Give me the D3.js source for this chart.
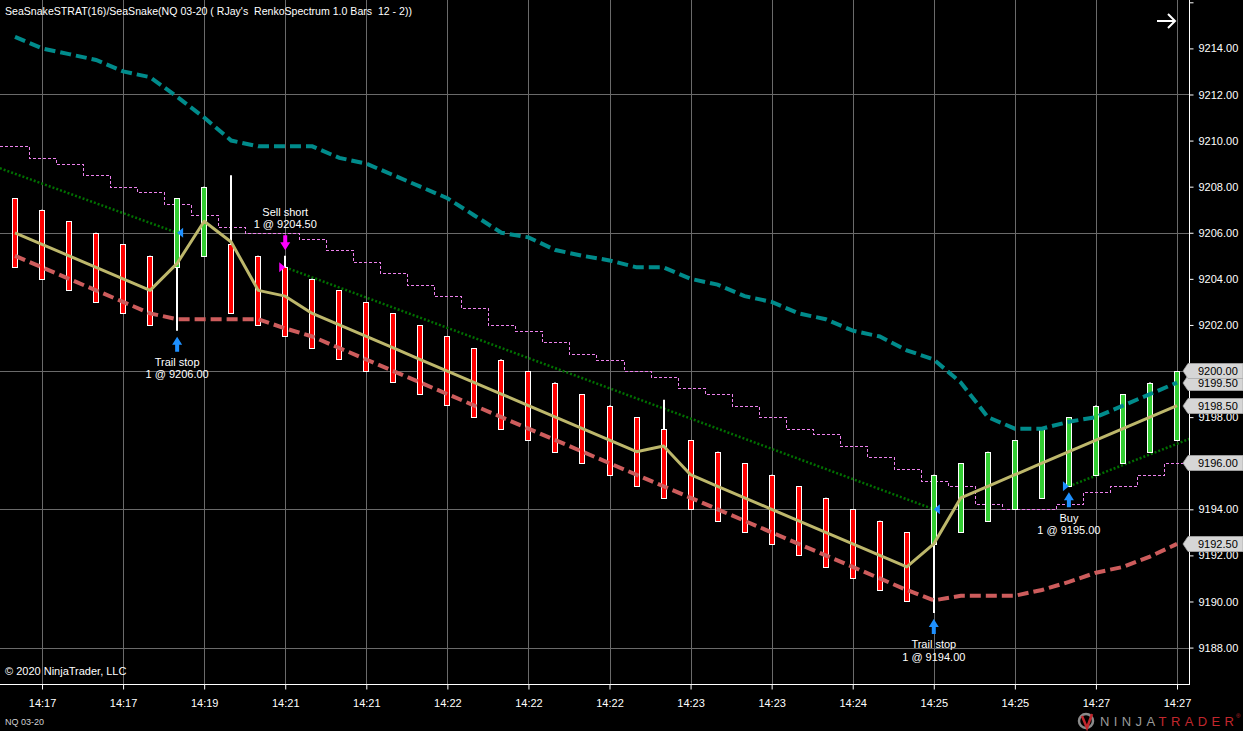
<!DOCTYPE html>
<html>
<head>
<meta charset="utf-8">
<script src="https://cdn.jsdelivr.net/npm/d3@7"></script>
<style>
    html, body { margin: 0; background: #000; overflow: hidden; }
    svg { display: block; }
    text { font-family: "Liberation Sans", Arial, sans-serif; }
</style>
</head>
<body>
<svg id="chart" width="1243" height="731"></svg>
<script>
const timeLabels = ['14:17', '14:17', '14:19', '14:21', '14:21', '14:22', '14:22', '14:22',
    '14:23', '14:23', '14:24', '14:25', '14:25', '14:27', '14:27']
const tickBars = d3.range(1, 44, 3)

const opens = [9207.5, 9207, 9206.5, 9206, 9205.5, 9205, 9204.5, 9205, 9205.5, 9205,
    9204.5, 9204, 9203.5, 9203, 9202.5, 9202, 9201.5, 9201, 9200.5, 9200,
    9199.5, 9199, 9198.5, 9198, 9197.5, 9197, 9196.5, 9196, 9195.5, 9195,
    9194.5, 9194, 9193.5, 9193, 9192.5, 9193, 9193.5, 9194, 9194.5, 9195,
    9195.5, 9196, 9196.5, 9197]
const closes = [9204.5, 9204, 9203.5, 9203, 9202.5, 9202, 9207.5, 9208, 9202.5, 9202,
    9201.5, 9201, 9200.5, 9200, 9199.5, 9199, 9198.5, 9198, 9197.5, 9197,
    9196.5, 9196, 9195.5, 9195, 9194.5, 9194, 9193.5, 9193, 9192.5, 9192,
    9191.5, 9191, 9190.5, 9190, 9195.5, 9196, 9196.5, 9197, 9197.5, 9198,
    9198.5, 9199, 9199.5, 9200]
const highs = [9207.5, 9207, 9206.5, 9206, 9205.5, 9205, 9207.5, 9208, 9208.5, 9205,
    9205, 9204, 9203.5, 9203, 9202.5, 9202, 9201.5, 9201, 9200.5, 9200,
    9199.5, 9199, 9198.5, 9198, 9198.75, 9197, 9196.5, 9196, 9195.5, 9195,
    9194.5, 9194, 9193.5, 9193, 9195.5, 9196, 9196.5, 9197, 9197.5, 9198,
    9198.5, 9199, 9199.5, 9200]
const lows = [9204.5, 9204, 9203.5, 9203, 9202.5, 9202, 9201.75, 9205, 9202.5, 9202,
    9201.5, 9201, 9200.5, 9200, 9199.5, 9199, 9198.5, 9198, 9197.5, 9197,
    9196.5, 9196, 9195.5, 9195, 9194.5, 9194, 9193.5, 9193, 9192.5, 9192,
    9191.5, 9191, 9190.5, 9190, 9189.5, 9193, 9193.5, 9194, 9194.5, 9195,
    9195.5, 9196, 9196.5, 9197]

// SeaSnake channel
const upperBand = [9214.5, 9214, 9213.75, 9213.5, 9213, 9212.75, 9211.9, 9211, 9210, 9209.75,
    9209.75, 9209.75, 9209.25, 9209, 9208.5, 9208, 9207.5, 9206.75, 9206, 9205.8,
    9205.25, 9205, 9204.8, 9204.5, 9204.5, 9204, 9203.75, 9203.25, 9203, 9202.5,
    9202.25, 9201.75, 9201.5, 9200.9, 9200.5, 9199.5, 9198, 9197.5, 9197.5, 9197.8,
    9198, 9198.5, 9199, 9199.5]
const midLine = [9206, 9205.5, 9205, 9204.5, 9204, 9203.5, 9204.67, 9206.5, 9205.6, 9203.5,
    9203.25, 9202.5, 9202, 9201.5, 9201, 9200.5, 9200, 9199.5, 9199, 9198.5,
    9198, 9197.5, 9197, 9196.5, 9196.75, 9195.5, 9195, 9194.5, 9194, 9193.5,
    9193, 9192.5, 9192, 9191.5, 9192.5, 9194.5, 9195, 9195.5, 9196, 9196.5,
    9197, 9197.5, 9198, 9198.5]
const lowerBand = [9205, 9204.5, 9204, 9203.5, 9203, 9202.5, 9202.25, 9202.25, 9202.25, 9202.25,
    9201.85, 9201.5, 9201, 9200.5, 9200, 9199.5, 9199, 9198.5, 9198, 9197.5,
    9197, 9196.5, 9196, 9195.5, 9195, 9194.5, 9194, 9193.5, 9193, 9192.5,
    9192, 9191.5, 9191, 9190.5, 9190.05, 9190.25, 9190.25, 9190.25, 9190.5, 9190.85,
    9191.25, 9191.5, 9191.95, 9192.5]
const stopSteps = [9209.75, 9209.25, 9209, 9208.5, 9208, 9207.75, 9207.25, 9206.75, 9206.25, 9206,
    9206, 9205.75, 9205.25, 9204.75, 9204.25, 9203.75, 9203.25, 9202.75, 9202, 9201.75,
    9201.25, 9200.75, 9200.5, 9200, 9199.75, 9199.25, 9199, 9198.5, 9198, 9197.5,
    9197.25, 9196.75, 9196.25, 9195.75, 9195.25, 9195, 9194.25, 9194, 9194, 9194.25,
    9194.75, 9195, 9195.5, 9196]

// [bar, price] pairs of the strategy trend stop
const trendLines = [
    [[-0.56, 9208.8], [6, 9206]],
    [[10, 9204.5], [34, 9194]],
    [[39, 9195], [43.45, 9197.05]]
]

const trades = [
    {bar: 6, price: 9206, side: 'buy', entry: false, name: 'Trail stop'},
    {bar: 10, price: 9204.5, side: 'sell', entry: true, name: 'Sell short'},
    {bar: 34, price: 9194, side: 'buy', entry: false, name: 'Trail stop'},
    {bar: 39, price: 9195, side: 'buy', entry: true, name: 'Buy'}
]

const plotW = 1189, plotH = 684
const svg = d3.select('#chart')

const x = d3.scaleLinear().domain([0, 43]).range([15, 1177])
const y = d3.scaleLinear().domain([9186.42, 9216.1]).range([plotH, 0])
const fmt = d3.format('.2f')
const px = v => Math.round(v) + 0.5

svg.append('rect').attr('width', 1243).attr('height', 731).attr('fill', '#000')

svg.append('defs').append('clipPath').attr('id', 'plot-clip')
    .append('rect').attr('width', plotW).attr('height', plotH)

// grid
const grid = svg.append('g').attr('stroke', '#6a6a6a').attr('stroke-width', 1)
grid.selectAll('.vgrid').data(tickBars).join('line')
    .attr('x1', d => px(x(d))).attr('x2', d => px(x(d)))
    .attr('y1', 0).attr('y2', plotH)
grid.selectAll('.hgrid').data([9188, 9194, 9200, 9206, 9212]).join('line')
    .attr('x1', 0).attr('x2', plotW)
    .attr('y1', d => px(y(d))).attr('y2', d => px(y(d)))

const plot = svg.append('g').attr('clip-path', 'url(#plot-clip)')
const seriesLine = d3.line().x((d, i) => x(i)).y(d => y(d))

// trailing stop steps
const stepPts = [[-0.6, stopSteps[0]]].concat(stopSteps.map((v, i) => [i, v]), [[43.6, stopSteps[43]]])
plot.append('path')
    .datum(stepPts)
    .attr('d', d3.line().x(d => px(x(d[0]))).y(d => px(y(d[1]))).curve(d3.curveStep))
    .attr('fill', 'none').attr('stroke', '#ee82ee').attr('stroke-width', 1)
    .attr('stroke-dasharray', '3,2').attr('shape-rendering', 'crispEdges')

// trend stop dotted segments
plot.selectAll('.trend').data(trendLines).join('path')
    .attr('d', d3.line().x(d => x(d[0])).y(d => y(d[1])))
    .attr('fill', 'none').attr('stroke', '#007000').attr('stroke-width', 2.5)
    .attr('stroke-dasharray', '2,2')

// renko bars
const bars = plot.append('g')
bars.selectAll('.wick').data(highs).join('line')
    .attr('x1', (d, i) => Math.round(x(i))).attr('x2', (d, i) => Math.round(x(i)))
    .attr('y1', d => y(d)).attr('y2', (d, i) => y(lows[i]))
    .attr('stroke', '#fff').attr('stroke-width', 2)
bars.selectAll('.body').data(opens).join('rect')
    .attr('x', (d, i) => Math.round(x(i)) - 2.5)
    .attr('width', 5)
    .attr('y', (d, i) => Math.round(y(Math.max(d, closes[i]))) + 0.5)
    .attr('height', (d, i) => Math.round(Math.abs(y(d) - y(closes[i]))))
    .attr('fill', (d, i) => closes[i] > d ? '#32cd32' : '#ff0000')
    .attr('stroke', '#fff').attr('stroke-width', 1)

// channel lines
plot.append('path').datum(upperBand).attr('d', seriesLine)
    .attr('fill', 'none').attr('stroke', '#008b8b').attr('stroke-width', 4)
    .attr('stroke-dasharray', '11,5')
plot.append('path').datum(lowerBand).attr('d', seriesLine)
    .attr('fill', 'none').attr('stroke', '#cd5c5c').attr('stroke-width', 4)
    .attr('stroke-dasharray', '11,5')
plot.append('path').datum(midLine).attr('d', seriesLine)
    .attr('fill', 'none').attr('stroke', '#bdb76b').attr('stroke-width', 3)
    .attr('stroke-linejoin', 'round')

// executions
const tradeColor = d => d.side === 'buy' ? '#1e90ff' : '#ff00ff'
const marks = plot.selectAll('.trade').data(trades).join('g')
marks.append('path')
    .attr('d', d => {
        const cx = x(d.bar), cy = y(d.price), s = d.entry ? -6 : 6
        return `M${cx},${cy}L${cx + s},${cy - 5}L${cx + s},${cy + 5}Z`
    })
    .attr('fill', tradeColor)
marks.append('path')
    .attr('d', d => {
        const cx = x(d.bar)
        if (d.side === 'buy') {
            const t = y(lows[d.bar]) + 6
            return `M${cx},${t}L${cx + 5},${t + 8}L${cx + 2},${t + 8}L${cx + 2},${t + 15}` +
                `L${cx - 2},${t + 15}L${cx - 2},${t + 8}L${cx - 5},${t + 8}Z`
        }
        const b = y(highs[d.bar]) - 5.5
        return `M${cx},${b}L${cx + 5},${b - 8}L${cx + 2},${b - 8}L${cx + 2},${b - 15}` +
            `L${cx - 2},${b - 15}L${cx - 2},${b - 8}L${cx - 5},${b - 8}Z`
    })
    .attr('fill', tradeColor)
marks.each(function (d) {
    const g = d3.select(this)
    const cx = x(d.bar)
    const base = d.side === 'buy' ? y(lows[d.bar]) + 31.5 : y(highs[d.bar]) - 43.5
    const lines = [d.name, `1 @ ${fmt(d.price)}`]
    lines.forEach((t, k) => {
        g.append('text')
            .attr('x', cx).attr('y', base + k * 12.3)
            .attr('dy', '0.35em')
            .attr('text-anchor', 'middle')
            .attr('fill', '#fff').attr('font-size', 11)
            .text(t)
    })
})

// axes
svg.append('line').attr('x1', plotW + 0.5).attr('x2', plotW + 0.5).attr('y1', 0).attr('y2', plotH + 1)
    .attr('stroke', '#fff')
svg.append('line').attr('x1', 0).attr('x2', plotW + 1).attr('y1', plotH + 0.5).attr('y2', plotH + 0.5)
    .attr('stroke', '#fff')

const yAxis = svg.append('g')
    .attr('transform', `translate(${plotW + 0.5},0)`)
    .call(d3.axisRight(y).tickValues(d3.range(9188, 9217, 2)).tickSize(4).tickPadding(5)
        .tickFormat(d => d > 9215 ? '' : fmt(d)))
yAxis.select('.domain').remove()
yAxis.selectAll('line').attr('stroke', '#fff')
yAxis.selectAll('text').attr('fill', '#fff').attr('font-size', 11)
    .attr('font-family', '"Liberation Sans", Arial, sans-serif')

const xAxis = svg.append('g')
    .attr('transform', `translate(0,${plotH + 0.5})`)
    .call(d3.axisBottom(x).tickValues(tickBars).tickSize(5).tickPadding(10)
        .tickFormat((d, i) => timeLabels[i]))
xAxis.select('.domain').remove()
xAxis.selectAll('line').attr('stroke', '#fff')
xAxis.selectAll('text').attr('fill', '#fff').attr('font-size', 11)
    .attr('font-family', '"Liberation Sans", Arial, sans-serif')

// last value tags on the price axis
const tagValues = [lowerBand[43], stopSteps[43], midLine[43], upperBand[43], closes[43]]
const tags = svg.selectAll('.tag').data(tagValues).join('g')
tags.append('path')
    .attr('d', d => {
        const c = Math.round(y(d))
        return `M1183,${c}L1188,${c - 7.5}L1243,${c - 7.5}L1243,${c + 7.5}L1188,${c + 7.5}Z`
    })
    .attr('fill', '#d6d6d6').attr('stroke', '#a8a8a8').attr('stroke-width', 0.8)
tags.append('text')
    .attr('x', 1198).attr('y', d => Math.round(y(d)))
    .attr('dy', '0.36em')
    .attr('fill', '#000').attr('font-size', 11)
    .text(d => fmt(d))

// header / footer text
svg.append('text').attr('x', 5).attr('y', 15)
    .attr('fill', '#fff').attr('font-size', 11.5)
    .attr('textLength', 407).attr('lengthAdjust', 'spacingAndGlyphs')
    .style('white-space', 'pre')
    .text("SeaSnakeSTRAT(16)/SeaSnake(NQ 03-20 ( RJay's  RenkoSpectrum 1.0 Bars  12 - 2))")

svg.append('path').attr('d', 'M1157,21L1175,21M1168,14L1175,21L1168,28')
    .attr('fill', 'none').attr('stroke', '#fff').attr('stroke-width', 2)

svg.append('text').attr('x', 5).attr('y', 675)
    .attr('fill', '#fff').attr('font-size', 11)
    .text('© 2020 NinjaTrader, LLC')

svg.append('text').attr('x', 5).attr('y', 725)
    .attr('fill', '#d0d0d0').attr('font-size', 9)
    .text('NQ 03-20')

// NinjaTrader logo
const logo = svg.append('g')
logo.append('circle').attr('cx', 1086).attr('cy', 721).attr('r', 7)
    .attr('fill', 'none').attr('stroke', '#8a8a8a').attr('stroke-width', 2.5)
logo.append('path').attr('d', 'M1082,716L1087,728L1092,714')
    .attr('fill', 'none').attr('stroke', '#c1272d').attr('stroke-width', 2.5)
const logoText = logo.append('text').attr('x', 1100).attr('y', 726)
    .attr('font-size', 13).attr('textLength', 134).attr('lengthAdjust', 'spacing')
logoText.append('tspan').attr('fill', '#9a9a9a').text('NINJA')
logoText.append('tspan').attr('fill', '#c1272d').text('TRADER')
logo.append('text').attr('x', 1236).attr('y', 718).attr('font-size', 6)
    .attr('fill', '#c1272d').text('®')
</script>
</body>
</html>
